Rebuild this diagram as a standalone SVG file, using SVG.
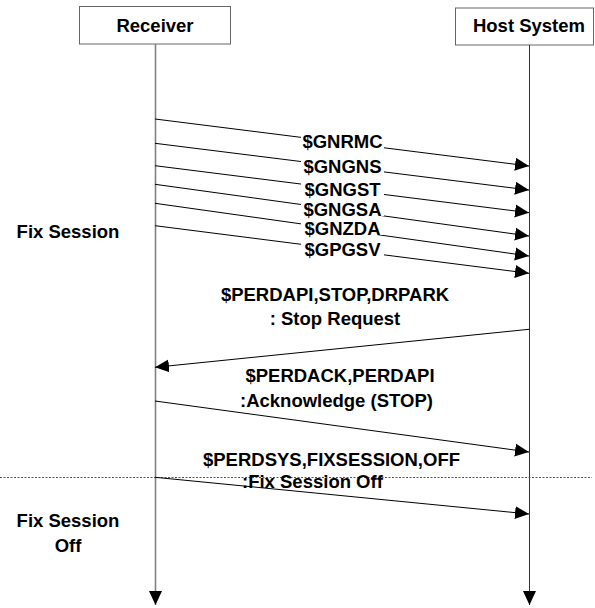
<svg xmlns="http://www.w3.org/2000/svg" width="595" height="608" viewBox="0 0 595 608">
<style>
  .t{font-family:"Liberation Sans",Arial,sans-serif;font-weight:bold;font-size:18.5px;fill:#000}
  .c{text-anchor:middle}
  .box{fill:#fff;stroke:#666;stroke-width:1}
  .msg{stroke:#000;stroke-width:1;fill:none;marker-end:url(#ah)}
  .bg{fill:#fff}
</style>
<defs>
  <marker id="ah" markerUnits="userSpaceOnUse" markerWidth="14" markerHeight="14" refX="14" refY="6.5" orient="auto" viewBox="0 0 14 13">
    <path d="M0,0 L14,6.5 L0,13 z" fill="#000"/>
  </marker>
</defs>
<rect width="595" height="608" fill="#fff"/>

<g id="receiver">
  <rect class="box" x="79.5" y="6.5" width="151" height="37.5"/>
  <text class="t c" x="155" y="31.5">Receiver</text>
  <line x1="155.5" y1="44" x2="155.5" y2="605" stroke="#808080" stroke-width="1.6" marker-end="url(#ah)"/>
</g>
<g id="host">
  <rect class="box" x="455.5" y="8" width="138" height="37"/>
  <text class="t c" x="529" y="31.5">Host System</text>
  <line x1="529.5" y1="45" x2="529.5" y2="605" stroke="#333" stroke-width="1" marker-end="url(#ah)"/>
</g>

<g id="phase-labels">
  <text class="t c" x="68" y="238">Fix Session</text>
  <text class="t c" x="68" y="527">Fix Session</text>
  <text class="t c" x="68" y="551.5">Off</text>
  <line x1="0" y1="477.5" x2="592" y2="477.5" stroke="#555" stroke-width="1" stroke-dasharray="2,1.5"/>
</g>

<g id="connectors">
  <line class="msg" x1="155" y1="119" x2="529" y2="166"/>
  <line class="msg" x1="155" y1="143.3" x2="529" y2="190"/>
  <line class="msg" x1="155" y1="165.7" x2="529" y2="212.7"/>
  <line class="msg" x1="155" y1="184.3" x2="529" y2="236"/>
  <line class="msg" x1="155" y1="203.3" x2="529" y2="256"/>
  <line class="msg" x1="155" y1="225.7" x2="529" y2="273.3"/>
  <line class="msg" x1="529" y1="329.3" x2="155" y2="367.3"/>
  <line class="msg" x1="155" y1="401" x2="529" y2="452"/>
  <line class="msg" x1="155" y1="477.3" x2="529" y2="514"/>
</g>

<g id="nmea-labels">
  <rect class="bg" x="301" y="135" width="83" height="13.5"/>
  <text class="t c" x="342.5" y="148.2">$GNRMC</text>
  <rect class="bg" x="301" y="160" width="83" height="13.5"/>
  <text class="t c" x="342.5" y="173.2">$GNGNS</text>
  <rect class="bg" x="301" y="182.5" width="83" height="13.5"/>
  <text class="t c" x="342.5" y="195.7">$GNGST</text>
  <rect class="bg" x="301" y="203" width="83" height="13"/>
  <text class="t c" x="342.5" y="215.5">$GNGSA</text>
  <rect class="bg" x="301" y="222" width="83" height="13"/>
  <text class="t c" x="342.5" y="234.7">$GNZDA</text>
  <rect class="bg" x="301" y="243" width="83" height="13.5"/>
  <text class="t c" x="342.5" y="256.2">$GPGSV</text>
</g>

<g id="command-labels">
  <text class="t c" x="335" y="300.7">$PERDAPI,STOP,DRPARK</text>
  <text class="t c" x="335" y="325">: Stop Request</text>
  <text class="t c" x="340" y="381.7">$PERDACK,PERDAPI</text>
  <text class="t" x="240" y="407">:Acknowledge (STOP)</text>
  <text class="t c" x="331.5" y="466">$PERDSYS,FIXSESSION,OFF</text>
  <text class="t" x="242" y="488">:Fix Session Off</text>
</g>
</svg>
